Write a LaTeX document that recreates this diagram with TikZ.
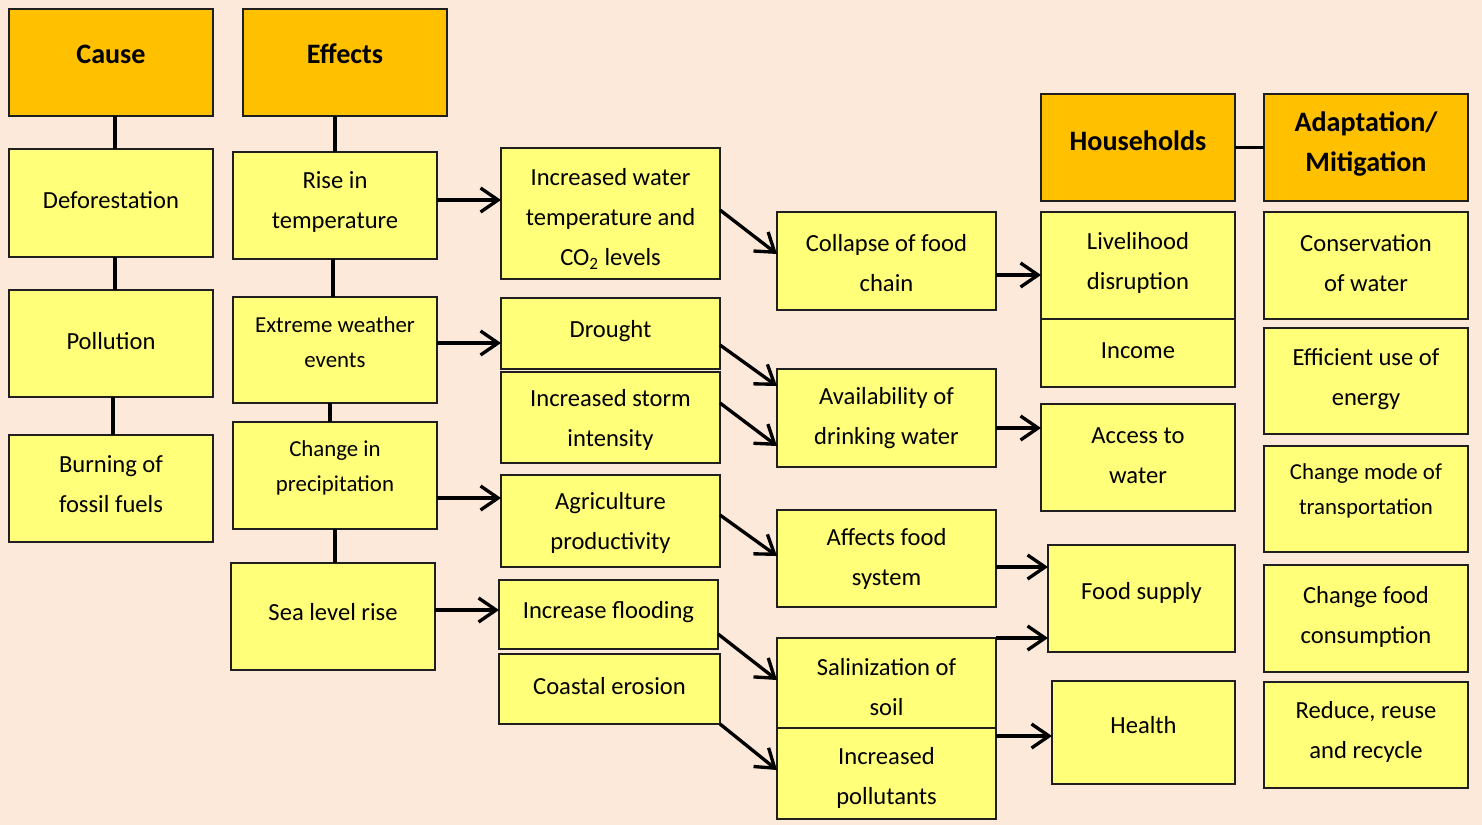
\documentclass[tikz,border=0pt]{standalone}
\usepackage{fontspec}
\setmainfont{Carlito}
\usetikzlibrary{arrows.meta,calc}
\definecolor{bgc}{HTML}{FDE9D9}
\definecolor{hdr}{HTML}{FFC000}
\definecolor{yel}{HTML}{FFFF79}
\definecolor{edgec}{HTML}{1F1F1F}
% #1 name, #2 box style, #3 text style, #4 x1, #5 y1, #6 x2, #7 y2, #8 text y, #9 text
\newcommand\mybox[9]{%
  \pgfmathsetmacro\bw{(#6-#4)*0.02}%
  \pgfmathsetmacro\bh{(#7-#5)*0.02}%
  \node[#2, minimum width=\bw cm, minimum height=\bh cm] (#1) at ({(#4+#6)/2},{(#5+#7)/2}) {};%
  \node[#3] (#1-t) at ({(#4+#6)/2},{#8+2}) {#9};%
}
\begin{document}
\begin{tikzpicture}[x=0.02cm,y=-0.02cm,
  hbox/.style={draw=edgec,line width=1.1pt,fill=hdr,inner sep=0pt,outer sep=0pt},
  ybox/.style={draw=edgec,line width=1.1pt,fill=yel,inner sep=0pt,outer sep=0pt},
  txt/.style={inner sep=0pt,align=center,font=\fontsize{14}{22.7}\selectfont},
  stxt/.style={inner sep=0pt,align=center,font=\fontsize{13}{19.8}\selectfont},
  htxt/.style={inner sep=0pt,align=center,font=\fontsize{16}{23.3}\selectfont\bfseries},
  conn/.style={line width=1.9pt,draw=black},
  arr/.style={conn,-{Straight Barb[length=3.5mm,width=4.8mm]}}]
\fill[bgc] (0,0) rectangle (1482,825);
% column 1
\mybox{cause}{hbox}{htxt}{9}{9}{213}{116}{52}{Cause}
\mybox{effects}{hbox}{htxt}{243}{9}{447}{116}{52}{Effects}
\mybox{defo}{ybox}{txt}{9}{149}{213}{257}{198}{Deforestation}
\mybox{poll}{ybox}{txt}{9}{290}{213}{397}{339}{Pollution}
\mybox{burn}{ybox}{txt}{9}{435}{213}{542}{482}{Burning of\\fossil fuels}
% column 2
\mybox{rise}{ybox}{txt}{233}{152}{437}{259}{200}{Rise in\\temperature}
\mybox{ext}{ybox}{stxt}{233}{297}{437}{403}{340}{Extreme weather\\events}
\mybox{chg}{ybox}{stxt}{233}{422}{437}{529}{466}{Change in\\precipitation}
\mybox{sea}{ybox}{txt}{231}{563}{435}{670}{610}{Sea level rise}
% column 3
\mybox{incw}{ybox}{txt}{501}{148}{720}{279}{217}{Increased water\\temperature and\\CO\textsubscript{2} levels}
\mybox{drought}{ybox}{txt}{501}{298}{720}{369}{329}{Drought}
\mybox{storm}{ybox}{txt}{501}{372}{720}{463}{418}{Increased storm\\intensity}
\mybox{agri}{ybox}{txt}{501}{475}{720}{567}{521}{Agriculture\\productivity}
\mybox{flood}{ybox}{txt}{499}{580}{718}{649}{610}{Increase flooding}
\mybox{coast}{ybox}{txt}{499}{654}{720}{724}{684}{Coastal erosion}
% column 4
\mybox{coll}{ybox}{txt}{777}{212}{996}{310}{261}{Collapse of food\\chain}
\mybox{avail}{ybox}{txt}{777}{369}{996}{467}{416}{Availability of\\drinking water}
\mybox{affect}{ybox}{txt}{777}{510}{996}{607}{557}{Affects food\\system}
\mybox{salin}{ybox}{txt}{777}{638}{996}{728}{685}{Salinization of\\soil}
\mybox{pollu}{ybox}{txt}{777}{728}{996}{819}{776}{Increased\\pollutants}
% column 5
\mybox{hh}{hbox}{htxt}{1041}{94}{1235}{201}{139}{Households}
\mybox{live}{ybox}{txt}{1041}{212}{1235}{319}{261}{Livelihood\\disruption}
\mybox{inc}{ybox}{txt}{1041}{319}{1235}{387}{349}{Income}
\mybox{access}{ybox}{txt}{1041}{404}{1235}{511}{454}{Access to\\water}
\mybox{food}{ybox}{txt}{1048}{545}{1235}{652}{591}{Food supply}
\mybox{health}{ybox}{txt}{1052}{681}{1235}{784}{723}{Health}
% column 6
\mybox{adapt}{hbox}{htxt}{1264}{94}{1468}{201}{142}{Adaptation/\\Mitigation}
\mybox{cons}{ybox}{txt}{1264}{212}{1468}{319}{261}{Conservation\\of water}
\mybox{eff}{ybox}{txt}{1264}{328}{1468}{434}{377}{Efficient use of\\energy}
\mybox{mode}{ybox}{stxt}{1264}{446}{1468}{552}{489}{Change mode of\\transportation}
\mybox{cfood}{ybox}{txt}{1264}{565}{1468}{672}{615}{Change food\\consumption}
\mybox{reduce}{ybox}{txt}{1264}{682}{1468}{788}{730}{Reduce, reuse\\and recycle}
% plain connectors
\draw[conn] ($(cause.south)+(4,0)$) -- ($(defo.north)+(4,0)$);
\draw[conn] ($(defo.south)+(4,0)$) -- ($(poll.north)+(4,0)$);
\draw[conn] ($(poll.south)+(2,0)$) -- ($(burn.north)+(2,0)$);
\draw[conn] (rise.north) -- (rise.north |- effects.south);
\draw[conn] ($(rise.south)+(-2,0)$) -- ($(ext.north)+(-2,0)$);
\draw[conn] ($(ext.south)+(-5,0)$) -- ($(chg.north)+(-5,0)$);
\draw[conn] (chg.south) -- (chg.south |- sea.north);
\draw[conn] (hh.east) -- (adapt.west);
% horizontal arrows
\coordinate (h1) at ($(rise.east)+(0,-5.5)$);
\draw[arr] (h1) -- (h1 -| incw.west);
\coordinate (h2) at ($(ext.east)+(0,-7)$);
\draw[arr] (h2) -- (h2 -| drought.west);
\coordinate (h3) at ($(chg.east)+(0,22.5)$);
\draw[arr] (h3) -- (h3 -| agri.west);
\coordinate (h4) at ($(sea.east)+(0,-6.5)$);
\draw[arr] (h4) -- (h4 -| flood.west);
\coordinate (h5) at ($(coll.east)+(0,14)$);
\draw[arr] (h5) -- (h5 -| live.west);
\coordinate (h6) at ($(avail.east)+(0,10)$);
\draw[arr] (h6) -- (h6 -| access.west);
\coordinate (h7) at ($(affect.east)+(0,8.5)$);
\draw[arr] (h7) -- (h7 -| food.west);
\coordinate (h8) at (salin.north east);
\draw[arr] (h8) -- (h8 -| food.west);
\coordinate (h9) at ($(pollu.east)+(0,-37.5)$);
\draw[arr] (h9) -- (h9 -| health.west);
% diagonal arrows
\draw[arr] ($(incw.east)+(0,-3.5)$) -- ($(coll.west)+(0,-7)$);
\draw[arr] ($(drought.east)+(0,11.5)$) -- ($(avail.west)+(0,-32)$);
\draw[arr] ($(storm.east)+(0,-14.5)$) -- ($(avail.west)+(0,28)$);
\draw[arr] ($(agri.east)+(0,-6)$) -- ($(affect.west)+(0,-2.5)$);
\draw[arr] ($(flood.east)+(0,19.5)$) -- ($(salin.west)+(0,-3)$);
\draw[arr] (coast.south east) -- ($(pollu.west)+(0,-3.5)$);
\end{tikzpicture}
\end{document}
